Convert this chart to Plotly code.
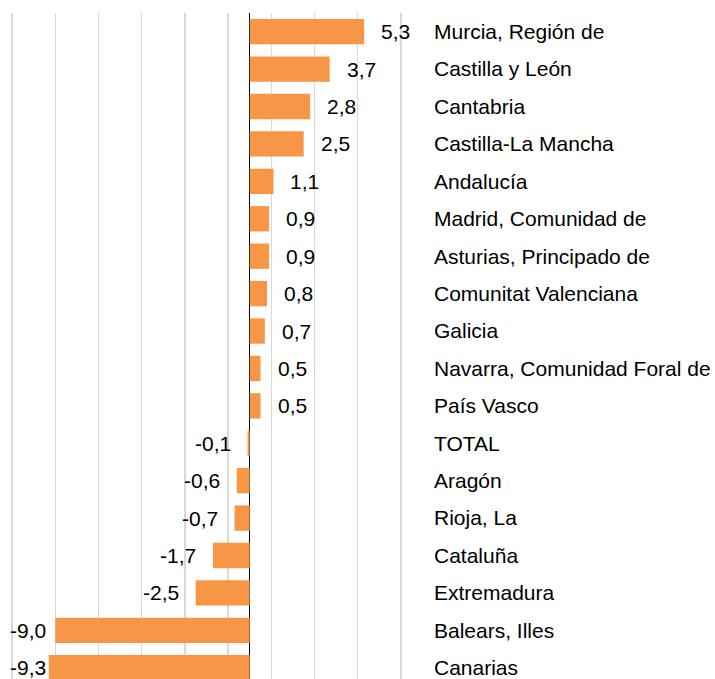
import plotly.graph_objects as go

categories = [
    "Murcia, Región de", "Castilla y León", "Cantabria", "Castilla-La Mancha",
    "Andalucía", "Madrid, Comunidad de", "Asturias, Principado de",
    "Comunitat Valenciana", "Galicia", "Navarra, Comunidad Foral de",
    "País Vasco", "TOTAL", "Aragón", "Rioja, La", "Cataluña", "Extremadura",
    "Balears, Illes", "Canarias",
]
values = [5.3, 3.7, 2.8, 2.5, 1.1, 0.9, 0.9, 0.8, 0.7, 0.5, 0.5,
          -0.1, -0.6, -0.7, -1.7, -2.5, -9.0, -9.3]
value_labels = [f"{v:.1f}".replace(".", ",") for v in values]

X_MIN, X_MAX = -11.05, 7.05
FONT = "Liberation Sans, Arial, sans-serif"
FS = 21

fig = go.Figure()
fig.add_trace(go.Bar(
    y=categories, x=values, orientation="h",
    marker=dict(color="#F79646", line=dict(width=0)),
    width=0.677, hoverinfo="skip",
))

annotations = []
for cat, v, lab in zip(categories, values, value_labels):
    if v >= 0:
        annotations.append(dict(x=v, y=cat, xref="x", yref="y", text=lab,
                                showarrow=False, xanchor="left", xshift=15,
                                font=dict(family=FONT, size=FS, color="#000")))
    elif v < -8:
        annotations.append(dict(x=X_MIN, y=cat, xref="x", yref="y", text=lab,
                                showarrow=False, xanchor="left", xshift=-3,
                                font=dict(family=FONT, size=FS, color="#000")))
    else:
        annotations.append(dict(x=v, y=cat, xref="x", yref="y", text=lab,
                                showarrow=False, xanchor="right", xshift=-15,
                                font=dict(family=FONT, size=FS, color="#000")))

fig.update_layout(
    width=715, height=679,
    margin=dict(l=11, r=313, t=13, b=0, pad=0),
    paper_bgcolor="white", plot_bgcolor="white",
    showlegend=False,
    annotations=annotations,
    xaxis=dict(range=[X_MIN, X_MAX], tick0=-11, dtick=2,
               showgrid=True, gridcolor="#D9D9D9", gridwidth=1.5,
               showticklabels=False, ticks="",
               zeroline=True, zerolinecolor="#000000", zerolinewidth=1.5,
               showline=False, fixedrange=True),
    yaxis=dict(type="category", range=[17.3, -0.5], side="right",
               showgrid=False, ticks="", ticklabelstandoff=31,
               tickfont=dict(family=FONT, size=FS, color="#000"),
               showline=False, zeroline=False, fixedrange=True),
)

fig.write_html(
    "out.html",
    config={"displayModeBar": False, "staticPlot": True},
    post_script="document.body.style.margin='0';document.body.style.overflow='hidden';",
)
